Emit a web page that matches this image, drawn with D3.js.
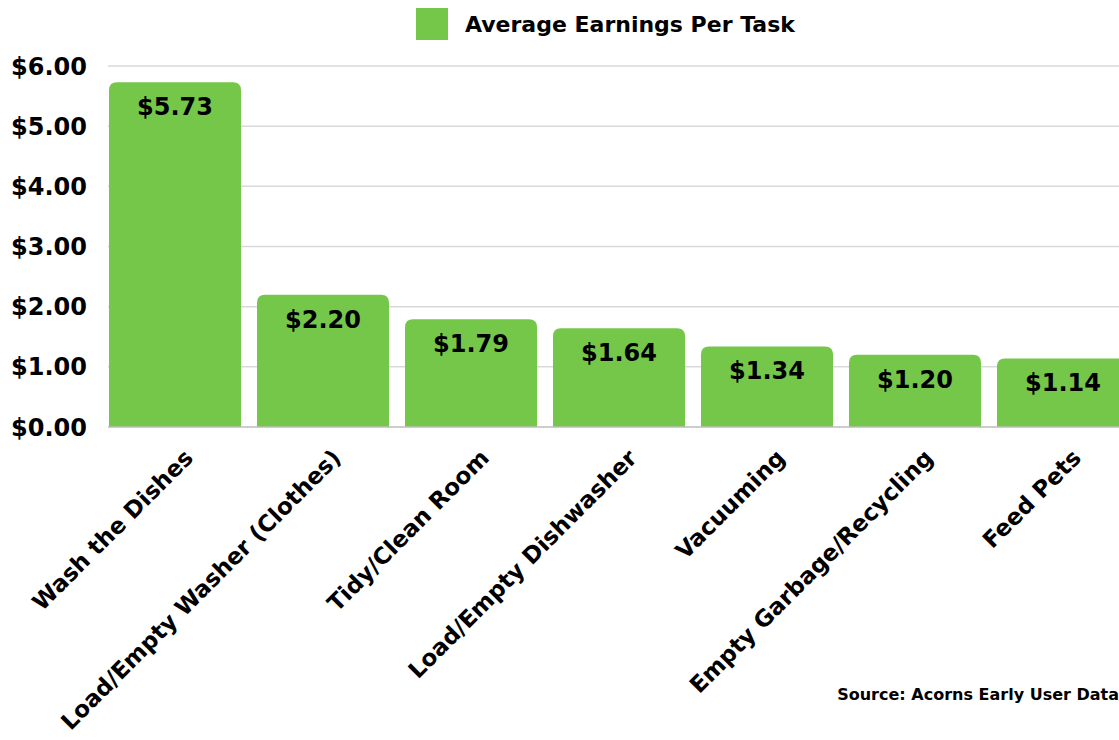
<!DOCTYPE html>
<html><head><meta charset="utf-8">
<script src="https://cdn.jsdelivr.net/npm/d3@7"></script>
<style>
body{margin:0;background:#fff;}
text{font-family:"DejaVu Sans",sans-serif;font-weight:700;fill:#000;}
</style></head><body>
<svg id="c" width="1119" height="740"></svg>
<script>
const categories = ["Wash the Dishes","Load/Empty Washer (Clothes)","Tidy/Clean Room","Load/Empty Dishwasher","Vacuuming","Empty Garbage/Recycling","Feed Pets"];
const values = [5.73, 2.20, 1.79, 1.64, 1.34, 1.20, 1.14];
const yTicks = [0,1,2,3,4,5,6];
const seriesName = "Average Earnings Per Task";
const source = "Source: Acorns Early User Data";

const svg = d3.select("#c");
const green = "#75c74a";
const x = d3.scaleBand().domain(categories).range([101, 1137]).paddingInner(0.108).paddingOuter(0.054);
const y = d3.scaleLinear().domain([0,6]).range([427, 66]);
const fmt = v => "$" + v.toFixed(2);

// gridlines
svg.append("g").selectAll("line").data(yTicks.filter(d=>d>0)).join("line")
  .attr("x1",108).attr("x2",1119).attr("y1",d=>y(d)).attr("y2",d=>y(d))
  .attr("stroke","#d9d9d9").attr("stroke-width",1.5);

// y labels
svg.append("g").selectAll("text").data(yTicks).join("text")
  .attr("x",87).attr("y",d=>y(d)).attr("dy","0.36em").attr("text-anchor","end")
  .style("font-size","24px").text(fmt);

// bars with rounded top corners
const r = 8;
svg.append("g").selectAll("path").data(values).join("path")
  .attr("fill",green)
  .attr("d",(d,i)=>{
    const x0 = x(categories[i]), w = x.bandwidth(), y0 = y(d), yb = y(0);
    return `M${x0},${yb}V${y0+r}Q${x0},${y0} ${x0+r},${y0}H${x0+w-r}Q${x0+w},${y0} ${x0+w},${y0+r}V${yb}Z`;
  });

// baseline
svg.append("line").attr("x1",108).attr("x2",1119).attr("y1",y(0)).attr("y2",y(0))
  .attr("stroke","#bdbdbd").attr("stroke-width",1.5);

// value labels
svg.append("g").selectAll("text").data(values).join("text")
  .attr("x",(d,i)=>x(categories[i])+x.bandwidth()/2).attr("y",d=>y(d)+33)
  .attr("text-anchor","middle").style("font-size","24px").text(fmt);

// x labels rotated
svg.append("g").selectAll("text").data(categories).join("text")
  .attr("text-anchor","end").style("font-size","23px")
  .attr("transform",d=>`translate(${x(d)+x.bandwidth()/2+8},${448}) rotate(-45)`)
  .attr("dy","0.7em").text(d=>d);

// legend
svg.append("rect").attr("x",416).attr("y",8).attr("width",32).attr("height",32).attr("fill",green);
svg.append("text").attr("x",465).attr("y",32).style("font-size","22px").text(seriesName);

// source
svg.append("text").attr("x",1119).attr("y",700).attr("text-anchor","end").style("font-size","16px").text(source);
</script></body></html>
